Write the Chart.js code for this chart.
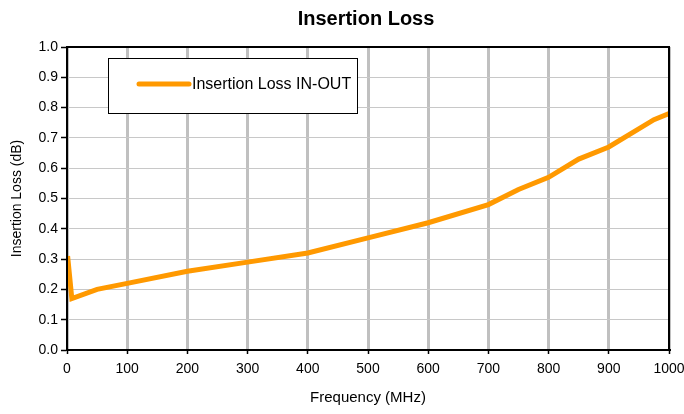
<!DOCTYPE html>
<html>
<head>
<meta charset="utf-8">
<script src="https://cdn.jsdelivr.net/npm/chart.js@4.4.0/dist/chart.umd.min.js"></script>
<style>
  html, body { margin: 0; padding: 0; background: #fff; }
  #wrap { width: 684px; height: 414px; }
</style>
</head>
<body>
<div id="wrap"><canvas id="lossChart" width="684" height="414"></canvas></div>
<script>
// ── Data ─────────────────────────────────────────────────────
const frequency = [1, 8, 50, 100, 200, 300, 400, 500, 600, 700, 750, 800, 850, 900, 975, 1000];
const lossInOut = [0.31, 0.17, 0.20, 0.22, 0.26, 0.29, 0.32, 0.37, 0.42, 0.48, 0.53, 0.57, 0.63, 0.67, 0.76, 0.78];
const xTicks = [0, 100, 200, 300, 400, 500, 600, 700, 800, 900, 1000];
const yTicks = [0, 0.1, 0.2, 0.3, 0.4, 0.5, 0.6, 0.7, 0.8, 0.9, 1.0];

const FONT = 'Liberation Sans, Arial, sans-serif';

// title + frame + in-plot legend
const decor = {
  id: 'decor',
  afterDatasetsDraw(chart) {
    const { ctx, chartArea: a } = chart;
    ctx.save();
    // frame
    ctx.strokeStyle = '#000';
    ctx.lineWidth = 2;
    ctx.strokeRect(a.left, a.top, a.right - a.left, a.bottom - a.top);
    // legend box
    const lx = a.left + 41, ly = a.top + 11, lw = 249, lh = 55;
    ctx.fillStyle = '#fff';
    ctx.fillRect(lx, ly, lw, lh);
    ctx.lineWidth = 1;
    ctx.strokeRect(lx + 0.5, ly + 0.5, lw, lh);
    ctx.strokeStyle = '#FF9900';
    ctx.lineWidth = 5;
    ctx.lineCap = 'round';
    ctx.beginPath();
    ctx.moveTo(lx + 31, ly + 26);
    ctx.lineTo(lx + 81, ly + 26);
    ctx.stroke();
    ctx.fillStyle = '#000';
    ctx.font = '16px ' + FONT;
    ctx.textBaseline = 'middle';
    ctx.fillText(chart.data.datasets[0].label, lx + 84, ly + 27);
    // title
    ctx.font = 'bold 20px ' + FONT;
    ctx.textAlign = 'center';
    ctx.fillText('Insertion Loss', (a.left + a.right) / 2 - 2, 19);
    ctx.restore();
  }
};

new Chart(document.getElementById('lossChart').getContext('2d'), {
  type: 'line',
  data: {
    datasets: [{
      label: 'Insertion Loss IN-OUT',
      data: frequency.map((f, i) => ({ x: f, y: lossInOut[i] })),
      borderColor: '#FF9900',
      borderWidth: 5,
      pointRadius: 0,
      tension: 0,
      fill: false
    }]
  },
  options: {
    responsive: false,
    animation: false,
    layout: { padding: { top: 47, right: 15, left: 0, bottom: 0 } },
    plugins: { legend: { display: false }, tooltip: { enabled: false }, title: { display: false } },
    scales: {
      x: {
        type: 'linear', min: 0, max: 1000,
        afterBuildTicks: s => { s.ticks = xTicks.map(v => ({ value: v })); },
        afterFit: s => { s.height = 64; s.paddingLeft = 0; s.paddingRight = 0; },
        grid: { color: '#c0c0c0', lineWidth: 3, tickColor: '#000', tickWidth: 1.5, tickLength: 4 },
        border: { color: '#000', width: 2 },
        ticks: { color: '#000', font: { family: FONT, size: 14 }, padding: 7, maxRotation: 0, callback: v => String(v) },
        title: { display: true, text: 'Frequency (MHz)', color: '#000', font: { family: FONT, size: 15 }, padding: { top: 0, bottom: 7 } }
      },
      y: {
        type: 'linear', min: 0, max: 1,
        afterBuildTicks: s => { s.ticks = yTicks.map(v => ({ value: v })); },
        afterFit: s => { s.width = 67; s.paddingTop = 0; s.paddingBottom = 0; },
        grid: { color: '#c8c8c8', lineWidth: 1, tickColor: '#000', tickWidth: 1.5, tickLength: 6 },
        border: { color: '#000', width: 2 },
        ticks: { color: '#000', font: { family: FONT, size: 14 }, padding: 3, callback: v => v.toFixed(1) },
        title: { display: true, text: 'Insertion Loss (dB)', color: '#000', font: { family: FONT, size: 14 }, padding: { top: 9, bottom: 0 } }
      }
    }
  },
  plugins: [decor]
});
</script>
</body>
</html>
